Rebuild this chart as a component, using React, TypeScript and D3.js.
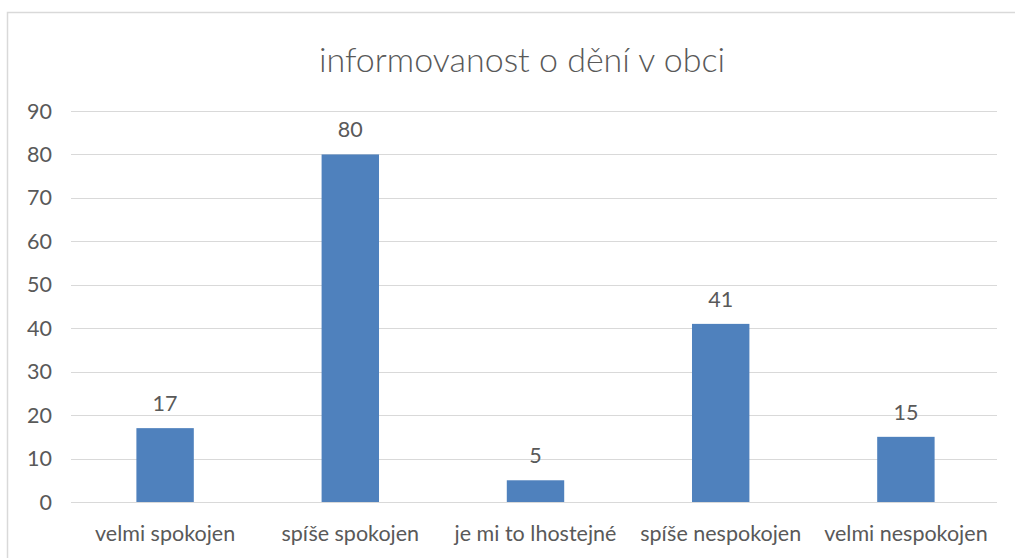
import React from "react";
import * as d3 from "d3";

const categories = ["velmi spokojen", "spíše spokojen", "je mi to lhostejné", "spíše nespokojen", "velmi nespokojen"];
const values = [17, 80, 5, 41, 15];
const yTicks = [0, 10, 20, 30, 40, 50, 60, 70, 80, 90];
const title = "informovanost o dění v obci";

export default function App() {
  const W = 1015, H = 558;
  const left = 71, right = 997, top = 111, bottom = 502;
  const x = d3.scaleBand<string>().domain(categories).range([left, right]).paddingInner(0.69).paddingOuter(0.345);
  const y = d3.scaleLinear().domain([0, 90]).range([bottom, top]);
  const font = "Lato, 'Open Sans', sans-serif";
  const txt = "#595959";
  return (
    <svg width={W} height={H} style={{ position: "fixed", left: 0, top: 0 }} fontFamily={font}>
      <rect x={0} y={0} width={W} height={H} fill="#fff" />
      <rect x={7.5} y={12.5} width={W + 10} height={H + 10} fill="none" stroke="#d9d9d9" strokeWidth={1.5} />
      <text x={522} y={72} textAnchor="middle" fontSize={34} fontWeight={300} fill={txt}>{title}</text>
      {yTicks.map((t) => (
        <g key={t}>
          <line x1={left} x2={right} y1={Math.round(y(t)) + 0.5} y2={Math.round(y(t)) + 0.5} stroke="#d9d9d9" strokeWidth={1} />
          <text x={52} y={y(t)} dy="0.35em" textAnchor="end" fontSize={21.5} fill={txt}>{t}</text>
        </g>
      ))}
      {categories.map((c, i) => (
        <g key={c}>
          <rect x={(x(c) as number) + 1.5} y={y(values[i])} width={x.bandwidth()} height={bottom - y(values[i])} fill="#4f81bd" />
          <text x={(x(c) as number) + x.bandwidth() / 2 + 1.5} y={y(values[i]) - 17} textAnchor="middle" fontSize={21.5} fill={txt}>{values[i]}</text>
          <text x={(x(c) as number) + x.bandwidth() / 2 + 1.5} y={541} textAnchor="middle" fontSize={21.5} fill={txt}>{c}</text>
        </g>
      ))}
    </svg>
  );
}
